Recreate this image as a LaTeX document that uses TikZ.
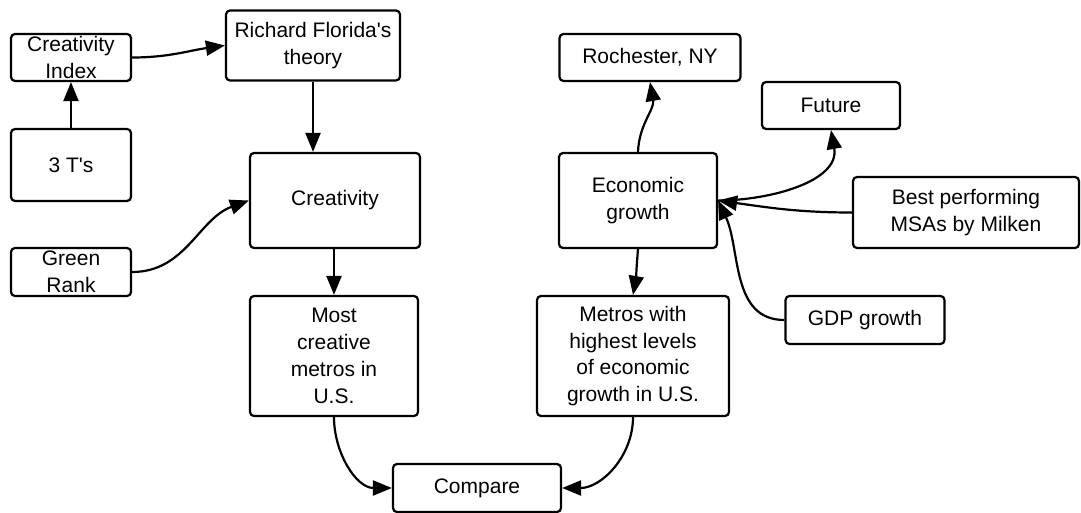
\documentclass[tikz,border=0pt]{standalone}
\usepackage{fontspec}
\setmainfont{Liberation Sans}[Ligatures=TeXOff]
\usetikzlibrary{arrows.meta}
\begin{document}
\begin{tikzpicture}[x=1pt,y=-1pt,
  box/.style={draw, rounded corners=4pt, line width=2.2pt, align=center, inner sep=0pt,
    font=\fontsize{21}{26.8}\selectfont},
  conn/.style={line width=2.2pt, -{Triangle[length=19pt,width=15pt]}}]
\useasboundingbox (0,0) rectangle (1081,513);
\node[box, minimum width=120pt, minimum height=47pt] (ci) at (71,57.5) {Creativity\\Index};
\node[box, minimum width=174pt, minimum height=70pt] (rf) at (313,45.5) {Richard Florida's\\theory};
\node[box, minimum width=120pt, minimum height=72pt] (tt) at (71,165) {3 T's};
\node[box, minimum width=170pt, minimum height=95pt] (cr) at (335,200.5) {Creativity};
\node[box, minimum width=120pt, minimum height=48pt] (gr) at (71,272) {Green\\Rank};
\node[box, minimum width=168pt, minimum height=120pt] (mc) at (334,356) {Most\\creative\\metros in\\U.S.};
\node[box, minimum width=192pt, minimum height=120pt] (mh) at (633,356) {Metros with\\highest levels\\of economic\\growth in U.S.};
\node[box, minimum width=168pt, minimum height=48pt] (cp) at (477,488) {Compare};
\node[box, minimum width=181pt, minimum height=47pt] (ro) at (650,57.5) {Rochester, NY};
\node[box, minimum width=138pt, minimum height=47pt] (fu) at (831,105.5) {Future};
\node[box, minimum width=158pt, minimum height=95pt] (ec) at (638,200.5) {Economic\\growth};
\node[box, minimum width=226pt, minimum height=71pt] (bp) at (966,212.5) {Best performing\\MSAs by Milken};
\node[box, minimum width=159pt, minimum height=48pt] (gd) at (865,320) {GDP growth};

\draw[conn] (ci.east) to[out=0,in=188] (rf.west);
\draw[conn] (tt.north) -- (ci.south);
\draw[conn] (rf.south) -- (cr.north -| rf.south);
\draw[conn] (gr.east) to[out=0,in=200] (cr.west);
\draw[conn] (cr.south -| mc.north) -- (mc.north);
\draw[conn] (mc.south) to[out=-90,in=180] (cp.west);
\draw[conn] (mh.south) to[out=-90,in=0] (cp.east);
\draw[conn] (ec.north) to[out=88,in=-80] (ro.south);
\draw[conn] (ec.south) to[out=-95,in=80] (mh.north);
\draw[conn] (ec.east) to[out=0,in=-80] (fu.south);
\draw[conn] (bp.west) to[out=180,in=-8] (ec.east);
\draw[conn] (gd.west) to[out=180,in=-65] (ec.east);
\end{tikzpicture}
\end{document}
